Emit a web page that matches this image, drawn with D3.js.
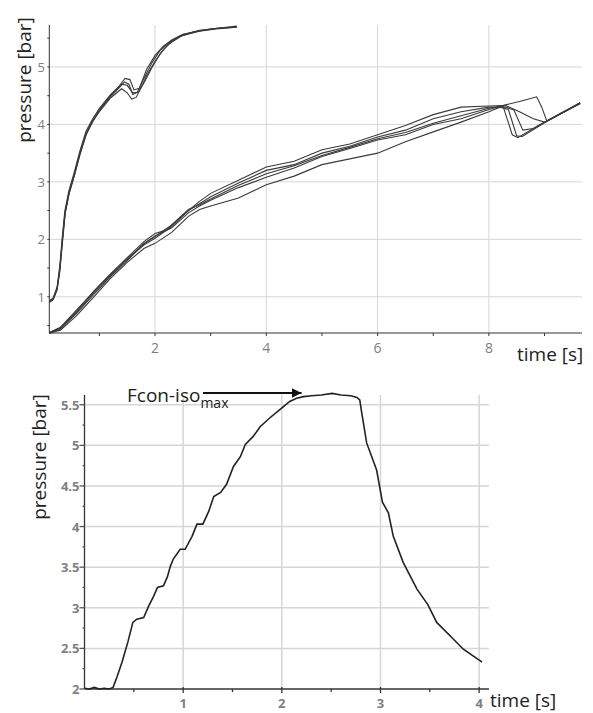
<!DOCTYPE html>
<html>
<head>
  <meta charset="utf-8">
  <title>pressure curves</title>
  <script src="https://d3js.org/d3.v7.min.js"></script>
  <style>
    body { margin: 0; background: #fff; }
    text { font-family: "Open Sans", sans-serif; }
  </style>
</head>
<body>
  <svg id="chart"></svg>

  <script>
    // top chart: fast-rise trials [time s, pressure bar]
    const fastA1 = [[0.1,0.92],[0.17,0.97],[0.24,1.15],[0.29,1.5],[0.33,1.95],[0.38,2.45],[0.45,2.8],[0.54,3.1],[0.65,3.5],[0.76,3.84],[0.87,4.05],[1.0,4.25],[1.2,4.5],[1.35,4.66],[1.46,4.8],[1.55,4.78],[1.62,4.6],[1.72,4.63],[1.85,4.96],[2.0,5.2],[2.15,5.36],[2.3,5.47],[2.5,5.57],[2.8,5.63],[3.1,5.67],[3.47,5.7]];
    const fastA2 = [[0.1,0.9],[0.17,0.95],[0.24,1.12],[0.29,1.45],[0.34,1.98],[0.39,2.48],[0.46,2.82],[0.55,3.12],[0.66,3.52],[0.77,3.86],[0.88,4.06],[1.0,4.22],[1.2,4.46],[1.4,4.62],[1.5,4.55],[1.58,4.44],[1.66,4.47],[1.75,4.64],[1.85,4.85],[2.0,5.1],[2.15,5.3],[2.3,5.44],[2.5,5.55],[2.8,5.62],[3.1,5.66],[3.47,5.69]];
    const fastA3 = [[0.1,0.93],[0.17,0.98],[0.24,1.17],[0.29,1.55],[0.33,2.0],[0.38,2.5],[0.45,2.84],[0.54,3.14],[0.65,3.54],[0.76,3.88],[0.87,4.08],[1.0,4.28],[1.2,4.52],[1.4,4.7],[1.5,4.68],[1.6,4.55],[1.7,4.56],[1.8,4.72],[1.95,5.0],[2.1,5.24],[2.25,5.4],[2.45,5.53],[2.7,5.61],[3.0,5.66],[3.47,5.71]];
    const fastA4 = [[0.1,0.91],[0.17,0.96],[0.24,1.13],[0.29,1.48],[0.33,1.92],[0.38,2.42],[0.45,2.77],[0.54,3.07],[0.65,3.47],[0.76,3.81],[0.87,4.03],[1.0,4.24],[1.2,4.48],[1.35,4.63],[1.45,4.74],[1.53,4.7],[1.6,4.52],[1.68,4.56],[1.8,4.8],[1.95,5.08],[2.1,5.3],[2.3,5.46],[2.5,5.56],[2.8,5.64],[3.2,5.68],[3.47,5.69]];

    // top chart: slow-rise trials
    const slowB1 = [[0.1,0.37],[0.3,0.46],[0.6,0.76],[0.9,1.1],[1.2,1.4],[1.5,1.68],[1.8,1.96],[2.0,2.1],[2.2,2.16],[2.5,2.42],[2.8,2.66],[3.0,2.8],[3.5,3.03],[4.0,3.26],[4.5,3.36],[5.0,3.56],[5.5,3.66],[6.0,3.82],[6.5,3.98],[7.0,4.17],[7.5,4.3],[8.0,4.32],[8.25,4.33],[8.42,3.82],[8.52,3.77],[8.92,4.0],[9.3,4.19],[9.64,4.37]];
    const slowB2 = [[0.1,0.36],[0.3,0.44],[0.6,0.74],[0.9,1.07],[1.2,1.37],[1.5,1.66],[1.8,1.9],[2.0,2.02],[2.3,2.22],[2.6,2.5],[2.8,2.62],[3.0,2.74],[3.5,2.98],[4.0,3.2],[4.5,3.3],[5.0,3.5],[5.5,3.62],[6.0,3.78],[6.5,3.9],[7.0,4.1],[7.5,4.22],[8.0,4.3],[8.3,4.3],[8.45,4.25],[8.61,3.9],[8.8,3.93],[9.2,4.14],[9.64,4.37]];
    const slowB3 = [[0.1,0.37],[0.3,0.45],[0.6,0.72],[0.9,1.04],[1.2,1.35],[1.5,1.63],[1.8,1.92],[2.0,2.05],[2.3,2.25],[2.6,2.52],[2.8,2.6],[3.0,2.7],[3.5,2.94],[4.0,3.14],[4.5,3.28],[5.0,3.46],[5.5,3.6],[6.0,3.75],[6.5,3.86],[7.0,4.02],[7.5,4.15],[8.0,4.28],[8.3,4.33],[8.55,4.22],[8.8,4.1],[9.0,4.04],[9.3,4.2],[9.64,4.38]];
    const slowB4 = [[0.1,0.38],[0.3,0.47],[0.6,0.78],[0.9,1.09],[1.2,1.39],[1.5,1.65],[1.8,1.93],[2.0,2.06],[2.3,2.2],[2.6,2.46],[2.8,2.58],[3.0,2.68],[3.5,2.9],[4.0,3.08],[4.5,3.24],[5.0,3.44],[5.5,3.58],[6.0,3.73],[6.5,3.82],[7.0,4.0],[7.5,4.1],[8.0,4.26],[8.3,4.34],[8.55,4.4],[8.75,4.45],[8.86,4.48],[8.95,4.3],[9.04,4.06],[9.3,4.2],[9.64,4.36]];
    const slowB5 = [[0.1,0.37],[0.3,0.42],[0.6,0.68],[0.9,1.0],[1.2,1.32],[1.5,1.6],[1.8,1.84],[2.0,1.93],[2.3,2.12],[2.6,2.4],[2.8,2.52],[3.0,2.58],[3.5,2.72],[4.0,2.95],[4.5,3.1],[5.0,3.3],[5.5,3.4],[6.0,3.5],[6.5,3.7],[7.0,3.87],[7.5,4.04],[8.0,4.22],[8.2,4.3],[8.35,4.26],[8.5,3.8],[8.6,3.79],[9.0,4.03],[9.64,4.37]];

    const topTrials = [fastA1, fastA2, fastA3, fastA4, slowB1, slowB2, slowB3, slowB4, slowB5];
    const topXTicks = [2, 4, 6, 8];
    const topXMinor = [1, 3, 5, 7, 9];
    const topYTicks = [1, 2, 3, 4, 5];
    const topYMinor = [0.5, 1.5, 2.5, 3.5, 4.5, 5.5];

    // bottom chart: one trial
    const single = [[0,2.01],[0.05,2.0],[0.1,2.02],[0.15,2.0],[0.2,2.01],[0.25,2.0],[0.29,2.02],[0.33,2.15],[0.38,2.33],[0.44,2.58],[0.49,2.82],[0.53,2.86],[0.6,2.88],[0.65,3.02],[0.7,3.14],[0.74,3.25],[0.8,3.27],[0.84,3.38],[0.87,3.51],[0.9,3.6],[0.97,3.72],[1.02,3.72],[1.09,3.88],[1.14,4.03],[1.2,4.03],[1.26,4.19],[1.31,4.37],[1.38,4.42],[1.44,4.52],[1.51,4.74],[1.58,4.86],[1.63,5.01],[1.71,5.11],[1.78,5.23],[1.88,5.34],[1.98,5.44],[2.08,5.54],[2.15,5.58],[2.22,5.6],[2.3,5.61],[2.4,5.62],[2.51,5.64],[2.6,5.62],[2.7,5.61],[2.76,5.59],[2.79,5.56],[2.81,5.4],[2.86,5.03],[2.96,4.7],[3.02,4.3],[3.08,4.17],[3.13,3.88],[3.23,3.56],[3.37,3.23],[3.48,3.04],[3.57,2.82],[3.71,2.65],[3.84,2.49],[4.03,2.33]];
    const botXTicks = [1, 2, 3, 4];
    const botXMinor = [0.5, 1.5, 2.5, 3.5];
    const botYTicks = [2, 2.5, 3, 3.5, 4, 4.5, 5, 5.5];
    const botYMinor = [2.25, 2.75, 3.25, 3.75, 4.25, 4.75, 5.25];

    const width = 593, height = 713;
    const svg = d3.select("#chart").attr("width", width).attr("height", height);

    const gridColor = "#d6d6d6";
    const tickColor = "#808080";

    // ---------- top chart ----------
    const x1 = d3.scaleLinear().domain([0.1, 9.65]).range([49.3, 580.7]);
    const y1 = d3.scaleLinear().domain([0.37, 5.73]).range([333, 25]);
    const topG = svg.append("g");

    topG.selectAll(".hgrid").data(topYTicks).enter().append("line")
      .attr("x1", x1(0.1)).attr("x2", 582)
      .attr("y1", d => y1(d)).attr("y2", d => y1(d))
      .attr("stroke", gridColor);
    topG.selectAll(".vgrid").data(topXTicks).enter().append("line")
      .attr("x1", d => x1(d)).attr("x2", d => x1(d))
      .attr("y1", y1(5.73)).attr("y2", y1(0.37))
      .attr("stroke", gridColor);

    // axes
    topG.append("line").attr("x1", x1(0.1)).attr("x2", x1(0.1))
      .attr("y1", y1(5.73)).attr("y2", y1(0.37)).attr("stroke", "#333");
    topG.append("line").attr("x1", x1(0.1)).attr("x2", 582)
      .attr("y1", y1(0.37)).attr("y2", y1(0.37)).attr("stroke", "#333");

    topG.selectAll(".xt").data(topXTicks.concat(topXMinor)).enter().append("line")
      .attr("x1", d => x1(d)).attr("x2", d => x1(d))
      .attr("y1", y1(0.37)).attr("y2", y1(0.37) + 3).attr("stroke", "#333");
    topG.selectAll(".yt").data(topYTicks.concat(topYMinor)).enter().append("line")
      .attr("x1", x1(0.1) - 2).attr("x2", x1(0.1))
      .attr("y1", d => y1(d)).attr("y2", d => y1(d)).attr("stroke", "#333");

    topG.selectAll(".xl").data(topXTicks).enter().append("text")
      .attr("x", d => x1(d)).attr("y", 353)
      .attr("text-anchor", "middle").attr("font-size", 14).attr("fill", tickColor)
      .text(d => d);
    topG.selectAll(".yl").data(topYTicks).enter().append("text")
      .attr("x", 45).attr("y", d => y1(d) + 5)
      .attr("text-anchor", "end").attr("font-size", 13).attr("fill", tickColor)
      .text(d => d);

    const line1 = d3.line().x(d => x1(d[0])).y(d => y1(d[1]));
    topG.selectAll(".trial").data(topTrials).enter().append("path")
      .attr("d", line1)
      .attr("fill", "none").attr("stroke", "#3a3a3a").attr("stroke-width", 1.1);

    topG.append("text")
      .attr("transform", "translate(31,80) rotate(-90)")
      .attr("text-anchor", "middle").attr("font-size", 19).attr("fill", "#222")
      .text("pressure [bar]");
    topG.append("text")
      .attr("x", 517).attr("y", 361)
      .attr("font-size", 19).attr("fill", "#222")
      .text("time [s]");

    // ---------- bottom chart ----------
    const x2 = d3.scaleLinear().domain([0, 4.1]).range([84.5, 489]);
    const y2 = d3.scaleLinear().domain([2, 5.62]).range([689, 395]);
    const botG = svg.append("g");

    botG.selectAll(".hgrid").data(botYTicks.slice(1)).enter().append("line")
      .attr("x1", x2(0)).attr("x2", x2(4.1))
      .attr("y1", d => y2(d)).attr("y2", d => y2(d))
      .attr("stroke", gridColor).attr("stroke-width", 1.5);
    botG.selectAll(".vgrid").data(botXTicks).enter().append("line")
      .attr("x1", d => x2(d)).attr("x2", d => x2(d))
      .attr("y1", y2(5.62)).attr("y2", y2(2))
      .attr("stroke", gridColor).attr("stroke-width", 1.5);

    botG.append("line").attr("x1", x2(0)).attr("x2", x2(0))
      .attr("y1", y2(5.62)).attr("y2", y2(2)).attr("stroke", "#333").attr("stroke-width", 1.3);
    botG.append("line").attr("x1", x2(0)).attr("x2", x2(4.1))
      .attr("y1", y2(2)).attr("y2", y2(2)).attr("stroke", "#333").attr("stroke-width", 1.3);

    botG.selectAll(".xt").data(botXTicks).enter().append("line")
      .attr("x1", d => x2(d)).attr("x2", d => x2(d))
      .attr("y1", y2(2) - 2).attr("y2", y2(2) + 4).attr("stroke", "#333").attr("stroke-width", 1.3);
    botG.selectAll(".xm").data(botXMinor).enter().append("line")
      .attr("x1", d => x2(d)).attr("x2", d => x2(d))
      .attr("y1", y2(2)).attr("y2", y2(2) + 3).attr("stroke", "#333").attr("stroke-width", 1.3);
    botG.selectAll(".yt").data(botYTicks).enter().append("line")
      .attr("x1", x2(0) - 5).attr("x2", x2(0))
      .attr("y1", d => y2(d)).attr("y2", d => y2(d)).attr("stroke", "#555").attr("stroke-width", 1.3);
    botG.selectAll(".ym").data(botYMinor).enter().append("line")
      .attr("x1", x2(0) - 2).attr("x2", x2(0))
      .attr("y1", d => y2(d)).attr("y2", d => y2(d)).attr("stroke", "#555").attr("stroke-width", 1.3);

    botG.selectAll(".xl").data(botXTicks).enter().append("text")
      .attr("x", d => x2(d)).attr("y", 708)
      .attr("text-anchor", "middle").attr("font-size", 13).attr("font-weight", "bold").attr("fill", tickColor)
      .text(d => d);
    botG.selectAll(".yl").data(botYTicks).enter().append("text")
      .attr("x", x2(0) - 5).attr("y", d => y2(d) + 5)
      .attr("text-anchor", "end").attr("font-size", 13).attr("font-weight", "bold").attr("fill", tickColor)
      .text(d => d);

    const line2 = d3.line().x(d => x2(d[0])).y(d => y2(d[1]));
    botG.append("path").datum(single)
      .attr("d", line2)
      .attr("fill", "none").attr("stroke", "#222").attr("stroke-width", 1.6);

    botG.append("text")
      .attr("transform", "translate(46,457) rotate(-90)")
      .attr("text-anchor", "middle").attr("font-size", 19).attr("fill", "#222")
      .text("pressure [bar]");
    botG.append("text")
      .attr("x", 490).attr("y", 707)
      .attr("font-size", 19).attr("fill", "#222")
      .text("time [s]");

    // annotation for the maximum
    const note = botG.append("text").attr("x", 127).attr("y", 402).attr("font-size", 19).attr("fill", "#222");
    note.append("tspan").text("Fcon-iso");
    note.append("tspan").attr("font-size", 14).attr("dy", 6).text("max");
    svg.append("defs").append("marker")
      .attr("id", "head").attr("viewBox", "0 0 10 10").attr("refX", 10).attr("refY", 5)
      .attr("markerWidth", 5).attr("markerHeight", 5).attr("orient", "auto")
      .append("path").attr("d", "M0,0L10,5L0,10Z").attr("fill", "#111");
    botG.append("line")
      .attr("x1", 203).attr("x2", x2(2.2)).attr("y1", 393).attr("y2", 393)
      .attr("stroke", "#111").attr("stroke-width", 2).attr("marker-end", "url(#head)");
  </script>
</body>
</html>
